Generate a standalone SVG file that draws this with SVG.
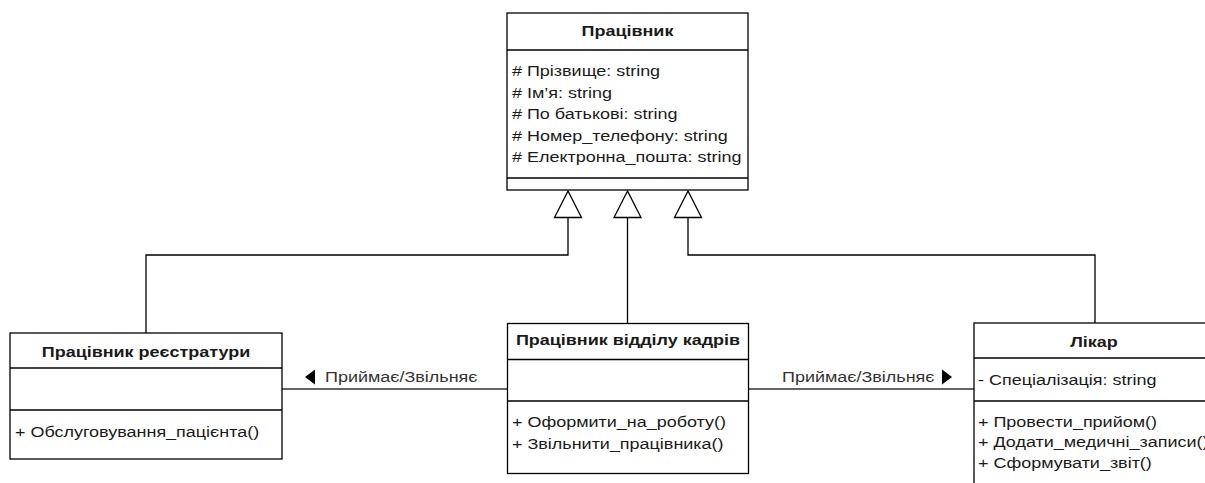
<svg xmlns="http://www.w3.org/2000/svg" width="1205" height="483" viewBox="0 0 1205 483">
  <defs>
    <style>
      .box { fill: #ffffff; stroke: #000000; stroke-width: 1.3; }
      .sep { stroke: #000000; stroke-width: 1.3; }
      .edge { fill: none; stroke: #000000; stroke-width: 1.3; }
      .assoc { fill: none; stroke: #333333; stroke-width: 1.3; }
      .hollow { fill: #ffffff; stroke: #000000; stroke-width: 1.3; stroke-linejoin: miter; }
      .dir { fill: #000000; }
      .title { font-family: "Liberation Sans", Arial, sans-serif; font-size: 15.5px; font-weight: bold; fill: #1a1a1a; text-anchor: middle; }
      .member { font-family: "Liberation Sans", Arial, sans-serif; font-size: 15.5px; fill: #1a1a1a; }
      .label { font-family: "Liberation Sans", Arial, sans-serif; font-size: 15.5px; fill: #333333; }
    </style>
  </defs>

  <!-- inheritance and association connectors -->
  <g id="connectors">
    <polyline class="edge" points="146,333 146,255 568,255 568,217.5"/>
    <line class="edge" x1="627.5" y1="323" x2="627.5" y2="217.5"/>
    <polyline class="edge" points="1095,323 1095,255 688,255 688,217.5"/>
    <polygon class="hollow" points="568,191 554.5,217.5 581.5,217.5"/>
    <polygon class="hollow" points="627.5,191 614,217.5 641,217.5"/>
    <polygon class="hollow" points="688,191 674.5,217.5 701.5,217.5"/>

    <line class="assoc" x1="282" y1="389" x2="507" y2="389"/>
    <line class="assoc" x1="748" y1="389" x2="974" y2="389"/>
    <polygon class="dir" points="305,377 315,369.5 315,384.5"/>
    <polygon class="dir" points="952,377 942,369.5 942,384.5"/>
    <!-- text is set in a horizontally widened face (x stretched by 1.16) -->
    <g transform="scale(1.16 1)">
      <text class="label" x="280.17" y="382">Приймає/Звільняє</text>
      <text class="label" x="674.14" y="382">Приймає/Звільняє</text>
    </g>
  </g>

  <!-- base class -->
  <g id="pracivnyk">
    <rect class="box" x="507" y="13" width="241" height="177"/>
    <line class="sep" x1="507" y1="50" x2="748" y2="50"/>
    <line class="sep" x1="507" y1="178" x2="748" y2="178"/>
    <g transform="scale(1.16 1)">
      <text class="title" x="540.95" y="36">Працівник</text>
      <text class="member" x="441.38" y="76.5">#&#160;Прізвище: string</text>
      <text class="member" x="441.38" y="98">#&#160;Ім’я: string</text>
      <text class="member" x="441.38" y="119.5">#&#160;По батькові: string</text>
      <text class="member" x="441.38" y="141">#&#160;Номер_телефону: string</text>
      <text class="member" x="441.38" y="162.5">#&#160;Електронна_пошта: string</text>
    </g>
  </g>

  <!-- reception worker -->
  <g id="reception">
    <rect class="box" x="10" y="333" width="272" height="126"/>
    <line class="sep" x1="10" y1="368" x2="282" y2="368"/>
    <line class="sep" x1="10" y1="410" x2="282" y2="410"/>
    <g transform="scale(1.16 1)">
      <text class="title" x="125.86" y="357.5">Працівник реєстратури</text>
      <text class="member" x="12.93" y="437">+ Обслуговування_пацієнта()</text>
    </g>
  </g>

  <!-- HR worker -->
  <g id="hr">
    <rect class="box" x="507.5" y="323.5" width="241" height="150"/>
    <line class="sep" x1="507.5" y1="359.5" x2="748.5" y2="359.5"/>
    <line class="sep" x1="507.5" y1="401" x2="748.5" y2="401"/>
    <g transform="scale(1.16 1)">
      <text class="title" x="541.38" y="345.5">Працівник відділу кадрів</text>
      <text class="member" x="441.38" y="427">+ Оформити_на_роботу()</text>
      <text class="member" x="441.38" y="449">+ Звільнити_працівника()</text>
    </g>
  </g>

  <!-- doctor -->
  <g id="doctor">
    <rect class="box" x="974" y="323" width="240" height="170"/>
    <line class="sep" x1="974" y1="358" x2="1214" y2="358"/>
    <line class="sep" x1="974" y1="401" x2="1214" y2="401"/>
    <g transform="scale(1.16 1)">
      <text class="title" x="943.10" y="347">Лікар</text>
      <text class="member" x="843.10" y="385.5">- Спеціалізація: string</text>
      <text class="member" x="843.10" y="427">+ Провести_прийом()</text>
      <text class="member" x="843.10" y="447.5">+ Додати_медичні_записи()</text>
      <text class="member" x="843.10" y="468">+ Сформувати_звіт()</text>
    </g>
  </g>
</svg>
